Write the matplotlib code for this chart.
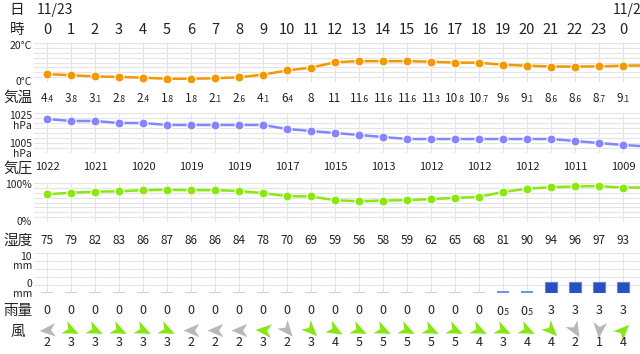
import numpy as np
import matplotlib.pyplot as plt
from matplotlib import transforms
from matplotlib.path import Path
from matplotlib.markers import MarkerStyle

plt.rcParams['font.family'] = ['Noto Sans CJK JP', 'DejaVu Sans']

# data: hourly from 11/23 0時 to 11/24 0時 (last entry = 11/24 1時, off the edge)
hours = list(range(24)) + [0]
temp = [4.4, 3.8, 3.1, 2.8, 2.4, 1.8, 1.8, 2.1, 2.6, 4.1, 6.4, 8, 11, 11.6, 11.6, 11.6,
        11.3, 10.8, 10.7, 9.6, 9.1, 8.6, 8.6, 8.7, 9.1, 9.2]
pressure = [1022, 1021, 1021, 1020, 1020, 1019, 1019, 1019, 1019, 1019, 1017, 1016, 1015,
            1014, 1013, 1012, 1012, 1012, 1012, 1012, 1012, 1012, 1011, 1010, 1009, 1008.3]
humidity = [75, 79, 82, 83, 86, 87, 86, 86, 84, 78, 70, 69, 59, 56, 58, 59, 62, 65, 68,
            81, 90, 94, 96, 97, 93, 93]
rain = [0, 0, 0, 0, 0, 0, 0, 0, 0, 0, 0, 0, 0, 0, 0, 0, 0, 0, 0, 0.5, 0.5, 3, 3, 3, 3]
wind = [2, 3, 3, 3, 3, 3, 2, 2, 2, 3, 2, 3, 4, 5, 5, 5, 5, 5, 4, 3, 4, 4, 2, 1, 4]
# direction the arrow points (deg, 0 = right, counter-clockwise)
wind_dir = [185, -25, -25, -25, -25, -25, 180, 180, 180, 175, -50, -45, -30, -25, -25,
            -25, -25, -25, -25, -25, -25, -45, -60, -95, 45]
dates = ['11/23', '11/24']

n = len(hours)
x = np.arange(n)
W, H = 640, 354
fig = plt.figure(figsize=(6.4, 3.54), dpi=100)
txt = '#222222'


def fy(py):
    return 1 - py / H


def panel(top, bottom, ylim, yticks):
    ax = fig.add_axes([34 / W, fy(bottom), (W - 34) / W, (bottom - top) / H])
    ax.set_xlim(-13 / 24, 24.71)
    ax.set_ylim(*ylim)
    for s in ax.spines.values():
        s.set_visible(False)
    ax.set_xticks(x)
    ax.set_yticks(yticks)
    ax.tick_params(length=0, labelbottom=False, labelleft=False)
    ax.grid(True, color='#e4e4e4', lw=0.8)
    ax.set_axisbelow(True)
    return ax


ax_t = panel(43, 82, (0, 21.7), np.linspace(0, 21.7, 9))
ax_p = panel(113, 153, (1005, 1025), np.linspace(1005, 1025, 9))
ax_h = panel(183, 222, (0, 105.4), np.linspace(0, 105.4, 9))
ax_r = panel(253, 293, (0, 10.8), np.linspace(0, 10.8, 6))

mk = dict(marker='o', ms=6.5, mec='white', mew=0.8, lw=1.8, clip_on=True)
ax_t.plot(np.arange(len(temp)), temp, color='#f39800', **mk)
ax_p.plot(np.arange(len(pressure)), pressure, color='#8585ff', **mk)
ax_h.plot(np.arange(len(humidity)), humidity, color='#8ae810', **mk)

rain_col = ['#d0d0d0' if v == 0 else ('#6a9be0' if v < 1 else '#2a4fc2') for v in rain]
rain_h = [max(v, 0.25) for v in rain]
ax_r.bar(x, rain_h, width=0.5, color=rain_col, edgecolor=['none' if v < 1 else '#5f82d8' for v in rain], lw=0.8)

# y-axis labels
def ylab(ax, y, s, va='center'):
    tr = transforms.blended_transform_factory(ax.transAxes, ax.transData)
    ax.text(-2 / 606, y, s, transform=tr, ha='right', va=va, fontsize=7.5,
            color=txt, linespacing=0.95)


ylab(ax_t, 20, '20°C')
ylab(ax_t, 0, '0°C')
ylab(ax_p, 1021, '1025\nhPa')
ylab(ax_p, 1007, '1005\nhPa')
ylab(ax_h, 100, '100%')
ylab(ax_h, 0, '0%')
ylab(ax_r, 8.5, '10\nmm')
ylab(ax_r, 1.1, '0\nmm')

# rows of text
row = transforms.blended_transform_factory(ax_t.transData, fig.transFigure)


def val_text(i, v, py, big=8.5, small=6):
    if float(v).is_integer():
        fig.text(i, fy(py), str(int(v)), transform=row, ha='center', va='center',
                 fontsize=big, color=txt)
        return
    ip, dp = ('%.1f' % v).split('.')
    shift = (len(ip) * 0.55 * big - (0.25 + 0.55) * small) / 2
    fig.text(i, fy(py), ip, ha='right', va='baseline', fontsize=big, color=txt,
             transform=transforms.offset_copy(row, fig, x=shift + 0.4, y=-3, units='points'))
    fig.text(i, fy(py), '.' + dp, ha='left', va='baseline', fontsize=small, color=txt,
             transform=transforms.offset_copy(row, fig, x=shift - 0.4, y=-3, units='points'))


for lab, py in [('日', 10), ('時', 30)]:
    fig.text(17 / W, fy(py), lab, ha='center', va='center', fontsize=10.5, color=txt)
for lab, py in [('気温', 98), ('気圧', 170), ('湿度', 241), ('雨量', 311), ('風', 332)]:
    fig.text(18 / W, fy(py), lab, ha='center', va='center', fontsize=10.5, color=txt)

date_idx = [0, 24]
for d, i in zip(dates, date_idx):
    fig.text(i, fy(10), d, ha='left', va='center', fontsize=10, color=txt,
             transform=transforms.offset_copy(row, fig, x=-7.5, units='points'))

for i in range(n):
    fig.text(i, fy(30), str(hours[i]), transform=row, ha='center', va='center',
             fontsize=10.5, color=txt)
    val_text(i, temp[i], 98)
    val_text(i, humidity[i], 241)
    val_text(i, rain[i], 311, big=9)
    fig.text(i, fy(342), str(wind[i]), transform=row, ha='center', va='center',
             fontsize=9, color=txt)
for i in range(0, n, 2):
    val_text(i, round(pressure[i]), 167, big=8)

# wind arrows
ax_w = fig.add_axes([34 / W, fy(340), (W - 34) / W, 20 / H])
ax_w.set_xlim(-13 / 24, 24.71)
ax_w.set_ylim(0, 1)
ax_w.axis('off')
dart = Path([(1, 0), (-1, 0.85), (-0.45, 0), (-1, -0.85), (1, 0)],
            [Path.MOVETO, Path.LINETO, Path.LINETO, Path.LINETO, Path.CLOSEPOLY])
for i in range(n):
    c = '#88e618' if wind[i] >= 3 else '#b8b8b8'
    m = MarkerStyle(dart, transform=transforms.Affine2D().rotate_deg(wind_dir[i]))
    ax_w.plot(i, 0.5, marker=m, ms=11.5, color=c, mec='none', ls='none')

fig.savefig('out.png', dpi=100)
